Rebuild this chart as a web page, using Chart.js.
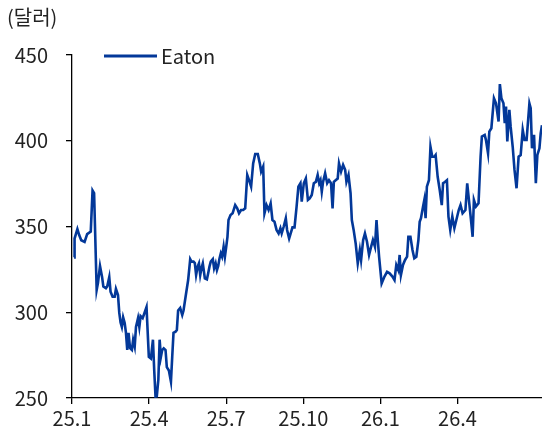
<!DOCTYPE html>
<html>
<head>
<meta charset="utf-8">
<script src="https://cdn.jsdelivr.net/npm/chart.js@4"></script>
<style>
  html, body { margin: 0; padding: 0; background: #fff; }
  #wrap { width: 542px; height: 435px; }
</style>
</head>
<body>
<div id="wrap"><canvas id="c" width="542" height="435"></canvas></div>
<script>
// Time axis: months elapsed since start of Jan 2025
const months = [0.08,0.10,0.21,0.28,0.36,0.49,0.59,0.73,0.80,0.86,0.96,1.01,1.09,1.17,1.22,1.32,1.37,1.45,1.50,1.58,1.66,1.71,1.79,1.84,1.89,1.94,1.99,2.05,2.10,2.15,2.20,2.26,2.33,2.38,2.44,2.49,2.57,2.62,2.67,2.75,2.83,2.90,
2.99,3.07,3.15,3.20,3.25,3.30,3.36,3.41,3.46,3.51,3.57,3.64,3.69,3.77,3.85,3.90,3.95,4.03,4.08,4.13,4.21,4.29,4.34,4.42,4.52,4.60,4.65,4.73,4.78,4.83,4.89,4.94,4.99,5.04,5.09,5.17,5.25,5.30,5.35,5.40,5.48,5.53,5.59,5.64,5.69,5.74,5.79,5.84,5.90,5.95,6.00,6.05,
6.09,6.17,6.25,6.35,6.43,6.50,6.58,6.66,6.74,6.82,6.89,6.97,7.05,7.13,7.23,7.31,7.36,7.44,7.49,7.57,7.65,7.73,7.80,7.88,7.96,8.04,8.11,8.16,8.24,8.32,8.37,8.45,
8.58,8.66,8.74,8.81,8.89,8.94,9.02,9.10,9.18,9.25,9.33,9.41,9.49,9.56,9.62,9.67,9.72,9.77,9.85,9.93,10.00,10.08,10.14,10.19,10.26,10.34,10.39,10.47,10.55,10.63,10.68,10.76,10.84,10.89,10.96,11.04,11.12,11.20,11.25,11.33,11.40,11.48,11.56,11.64,11.71,11.79,11.85,11.90,11.95,12.05,
12.16,12.26,12.36,12.47,12.55,12.62,12.70,12.75,12.80,12.88,12.96,13.04,13.09,13.17,13.25,13.32,13.40,13.48,13.53,13.58,13.66,13.71,13.76,13.81,13.89,13.95,14.02,14.10,14.15,14.23,14.31,14.39,14.44,14.51,14.59,14.65,14.72,14.80,14.88,
15.05,15.12,15.20,15.31,15.38,15.46,15.54,15.59,15.64,15.72,15.82,15.90,15.95,16.06,16.11,16.19,16.24,16.32,16.42,16.50,16.60,16.65,16.71,16.79,16.84,16.89,16.94,17.02,17.07,17.15,17.22,17.30,17.38,17.46,17.54,17.61,17.69,17.80,17.85,17.90,17.98,18.05,18.11,18.19,18.24,18.29];

// Eaton share price (USD)
const eaton = [332,343,348.5,345,342,341,345.6,347,371,369.5,313,317,327,320.6,315,314,315,320.5,312,309,309,313.6,310,299.6,294,291.4,297,293.7,288,278,288,279,278,284,280,291.4,296.6,291.4,297.8,296.6,300,303,
274,273,284,266,250.8,251,260.5,284,274,278,279,278,268,266,259.5,274,288,288.7,289.6,301,302.5,298.4,301,309,318.8,330.9,329.5,329.5,328.7,321.7,326.6,328.5,321.7,325.8,328.5,319.8,319.2,322.7,326.6,329.5,331,325.6,328.5,324.6,327,331.4,334.4,332.4,338.2,332.4,338,344,
353.8,356.7,357.7,362.5,360.6,357.7,359.6,359.6,360.6,380,377,373.2,386.8,392.3,392.3,386.8,382,385,357.7,362.5,359.6,363.5,353.8,352.8,348,346,349,346,350,354.8,348,343,
349.5,349.5,361.6,373.2,375.2,364.5,375.2,378,365.5,366.4,368.4,375.2,376,380,375.2,377,370.3,376,381,375.2,377,375.2,360.6,376,377,378,386.8,382,385.9,383,376,380,369.4,353.8,348,340,328.5,336.3,330.5,342.1,346,341.1,333.4,338.2,342.1,338.2,353.8,342.1,332.4,316.8,
320.8,323.6,322.7,320.8,318.8,327.6,324.6,333.4,321.7,327.6,330.5,332.4,344,344,336.3,331.5,332.4,342.1,352.8,354.8,361.6,365.5,354.8,373.2,377,396.5,390.7,390.7,391.7,379,371.3,362.5,375.2,376,377,355.8,348,355.8,349,
359.6,362.5,357.7,359.6,375.2,363.5,351.9,344,365.5,361.6,363.5,390.7,402.4,403.4,400.4,392.7,405.3,407.3,424.8,421.8,411.2,433,424.8,421.8,410.2,420,399.6,418,408.2,396.5,383,372.3,390.7,391.7,406.3,400.4,400.4,421.8,419,395.6,403.4,375.2,391.7,395.6,404.4,409];

const xTickMonths = [0, 3, 6, 9, 12, 15];
const xTickLabels = ['25.1', '25.4', '25.7', '25.10', '26.1', '26.4'];
const yTicks = [250, 300, 350, 400, 450];
const unitLabel = '(달러)';
const seriesName = 'Eaton';

const FONT = "'Noto Sans CJK KR', 'Noto Sans', sans-serif";
const TEXT = '#222';
const LINE = '#033899';

const extras = {
  id: 'extras',
  afterDraw(chart) {
    const ctx = chart.ctx;
    const ds = chart.data.datasets[0];
    ctx.save();
    ctx.font = '20px ' + FONT;
    ctx.fillStyle = TEXT;
    ctx.textBaseline = 'middle';
    ctx.textAlign = 'left';
    ctx.fillText(unitLabel, 7, 17);
    // legend
    ctx.strokeStyle = ds.borderColor;
    ctx.lineWidth = 3;
    ctx.beginPath();
    ctx.moveTo(104, 56);
    ctx.lineTo(157, 56);
    ctx.stroke();
    ctx.fillText(ds.label, 161, 56);
    ctx.restore();
  }
};

new Chart(document.getElementById('c'), {
  type: 'line',
  data: {
    datasets: [{
      label: seriesName,
      data: months.map((m, i) => ({ x: m, y: eaton[i] })),
      borderColor: LINE,
      borderWidth: 2.6,
      pointRadius: 0,
      tension: 0,
      fill: false
    }]
  },
  options: {
    responsive: false,
    animation: false,
    devicePixelRatio: 1,
    layout: { padding: { top: 55, right: 0, left: 0, bottom: 0 } },
    plugins: { legend: { display: false }, tooltip: { enabled: false } },
    scales: {
      x: {
        type: 'linear',
        min: 0,
        max: 18.29,
        afterBuildTicks: (s) => { s.ticks = xTickMonths.map(v => ({ value: v })); },
        afterFit: (s) => { s.height = 37; },
        ticks: {
          autoSkip: false,
          maxRotation: 0,
          padding: 2,
          color: TEXT,
          font: { family: FONT, size: 20 },
          callback: (v) => { const i = xTickMonths.indexOf(v); return i >= 0 ? xTickLabels[i] : ''; }
        },
        grid: { drawOnChartArea: false, drawTicks: true, tickLength: 6, color: '#000', lineWidth: 1.3 },
        border: { display: true, color: '#000', width: 1.3 }
      },
      y: {
        min: 250,
        max: 450,
        afterBuildTicks: (s) => { s.ticks = yTicks.map(v => ({ value: v })); },
        afterFit: (s) => { s.width = 72; },
        ticks: {
          padding: 18,
          color: TEXT,
          font: { family: FONT, size: 20 }
        },
        grid: { drawOnChartArea: false, drawTicks: true, tickLength: 6, color: '#000', lineWidth: 1.3 },
        border: { display: true, color: '#000', width: 1.3 }
      }
    }
  },
  plugins: [extras]
});
</script>
</body>
</html>
